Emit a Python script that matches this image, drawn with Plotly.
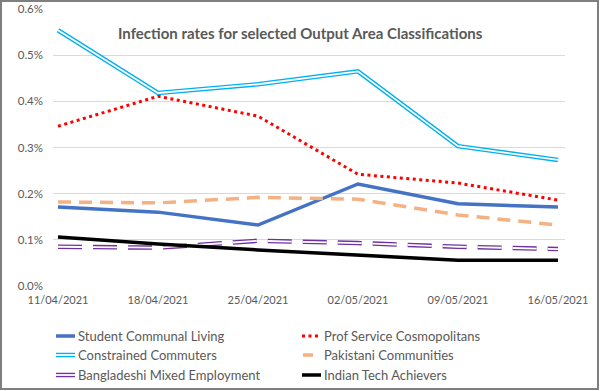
import plotly.graph_objects as go

dates = ["11/04/2021", "18/04/2021", "25/04/2021", "02/05/2021", "09/05/2021", "16/05/2021"]
student = [0.00171, 0.00160, 0.00132, 0.00221, 0.00178, 0.00171]
prof = [0.00346, 0.00411, 0.00368, 0.00242, 0.00223, 0.00186]
constrained = [0.00554, 0.00418, 0.00437, 0.00465, 0.00303, 0.00273]
pakistani = [0.00182, 0.00180, 0.00192, 0.00188, 0.00154, 0.00132]
bangladeshi = [0.00085, 0.00083, 0.00098, 0.00093, 0.00085, 0.00080]
indian = [0.00106, 0.00091, 0.00078, 0.00067, 0.00056, 0.00056]
y_ticks = [0, 0.001, 0.002, 0.003, 0.004, 0.005, 0.006]
title = "Infection rates for selected Output Area Classifications"

FONT = "Lato"
TXT = "#595959"
W, H = 600, 391
L, R, T, B = 53, 35, 9, 105
PW, PH = W - L - R, H - T - B

x = list(range(len(dates)))

# series: name, values, color, width, dash, double-line
series = [
    ("Student Communal Living", student, "#4472C4", 3.5, "solid", False),
    ("Prof Service Cosmopolitans", prof, "#FF0000", 3, "3px,3.5px", False),
    ("Constrained Commuters", constrained, "#00B0F0", 4.5, "solid", True),
    ("Pakistani Communities", pakistani, "#F4B183", 3.5, "13px,8px", False),
    ("Bangladeshi Mixed Employment", bangladeshi, "#7030A0", 4.5, "24px,11px", True),
    ("Indian Tech Achievers", indian, "#000000", 3.5, "solid", False),
]

fig = go.Figure()
for name, vals, col, w, dash, dbl in series:
    fig.add_trace(go.Scatter(x=x, y=vals, mode="lines", name=name, showlegend=False,
                             line=dict(color=col, width=w, dash=dash), hoverinfo="skip"))
    if dbl:
        fig.add_trace(go.Scatter(x=x, y=vals, mode="lines", showlegend=False,
                                 line=dict(color="white", width=1.8, dash=dash), hoverinfo="skip"))

def px2paper(px, py):
    return (px - L) / PW, (H - B - py) / PH

shapes = []
annotations = []
# outer border
x0, y0 = px2paper(1, 1)
x1, y1 = px2paper(598, 389)
shapes.append(dict(type="rect", xref="paper", yref="paper", x0=x0, y0=y1, x1=x1, y1=y0,
                   line=dict(color="#7f7f7f", width=2), layer="below"))

# manual legend
leg_pos = [(56, 336), (302, 336), (56, 355), (302, 355), (56, 375), (302, 375)]
for (name, vals, col, w, dash, dbl), (lx, ly) in zip(series, leg_pos):
    if name == "Pakistani Communities":
        sx0, sx1 = 303, 313
        ldash = "solid"
    else:
        sx0, sx1 = lx, lx + 19
        ldash = "3px,3.5px" if dash == "3px,3.5px" else "solid"
    a0, b0 = px2paper(sx0, ly)
    a1, _ = px2paper(sx1, ly)
    shapes.append(dict(type="line", xref="paper", yref="paper", x0=a0, x1=a1, y0=b0, y1=b0,
                       line=dict(color=col, width=w, dash=ldash)))
    if dbl:
        shapes.append(dict(type="line", xref="paper", yref="paper", x0=a0, x1=a1, y0=b0, y1=b0,
                           line=dict(color="white", width=1.8)))
    tx, ty = px2paper(lx + 20, ly)
    annotations.append(dict(text=name, xref="paper", yref="paper", x=tx, y=ty, xanchor="left",
                            yanchor="middle", showarrow=False, font=dict(family=FONT, size=13, color=TXT)))

tx, ty = px2paper(300, 33)
annotations.append(dict(text="<b>" + title + "</b>", xref="paper", yref="paper", x=tx, y=ty,
                        xanchor="center", yanchor="middle", showarrow=False,
                        font=dict(family=FONT, size=15, color=TXT)))

fig.update_layout(
    width=W, height=H,
    margin=dict(l=L, r=R, t=T, b=B, autoexpand=False),
    paper_bgcolor="white", plot_bgcolor="white",
    showlegend=False,
    shapes=shapes, annotations=annotations,
    xaxis=dict(tickmode="array", tickvals=x, ticktext=dates, range=[-0.05, 5.07],
               showgrid=False, zeroline=False, showline=False, ticks="", automargin=False,
               ticklabelstandoff=6,
               tickfont=dict(family=FONT, size=11, color=TXT)),
    yaxis=dict(range=[0, 0.006], tickvals=y_ticks, tickformat=".1%", automargin=False,
               showgrid=True, gridcolor="#D9D9D9", gridwidth=1, zeroline=False,
               showline=False, ticks="", ticklabelstandoff=9,
               tickfont=dict(family=FONT, size=11.5, color=TXT)),
)

fig.write_html("out.html", config={"displayModeBar": False},
               post_script="document.body.style.margin='0';document.body.style.overflow='hidden';")
